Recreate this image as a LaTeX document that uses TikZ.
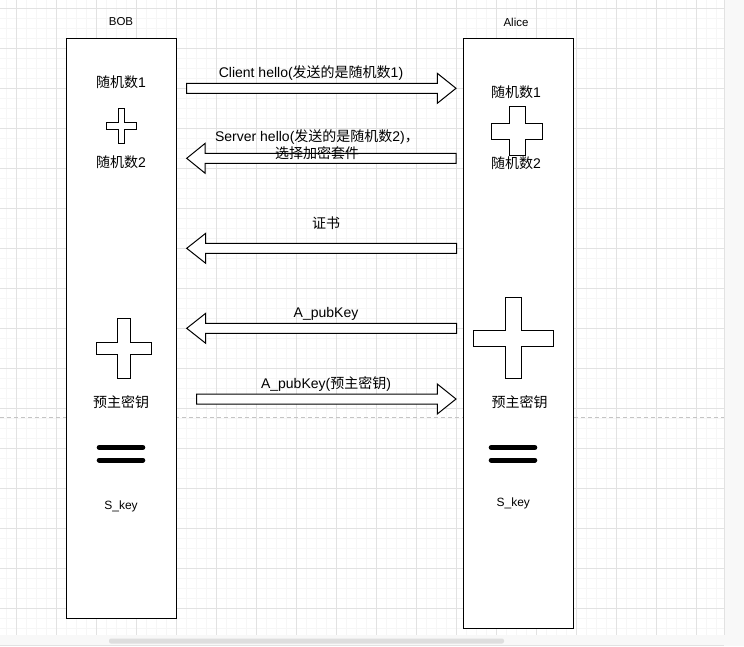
\documentclass[tikz,border=0pt]{standalone}
\usepackage{fontspec}
\setmainfont{Liberation Sans}
\newfontfamily\cjk{Noto Sans CJK SC}
\definecolor{minorgrid}{HTML}{F6F6F6}
\definecolor{majorgrid}{HTML}{E2E2E2}
\definecolor{dashgray}{HTML}{C4C4C4}
\definecolor{panelgray}{HTML}{F8F8F8}
\definecolor{thumbgray}{HTML}{DEDEDE}
\tikzset{
  lanebox/.style={draw=black, fill=white, line width=1.1pt, inner sep=0pt},
  txt/.style={font=\fontsize{14}{17}\selectfont, inner sep=0pt, text=black},
  smalltxt/.style={font=\fontsize{12}{14}\selectfont, inner sep=0pt, text=black},
  headtxt/.style={font=\fontsize{11.5}{13}\selectfont, inner sep=0pt, text=black},
  blockarrow/.style={draw=black, fill=white, line width=1pt, line join=miter},
  crossst/.style={draw=black, fill=white, line width=1pt},
  eqbar/.style={line width=5pt, line cap=round, black},
}
\newcommand\rarr[4]{% tail x, tip x, y, head length
  \draw[blockarrow] (#1,{#3-5}) -- ({#2-#4},{#3-5}) -- ({#2-#4},{#3-15}) -- (#2,#3) -- ({#2-#4},{#3+15}) -- ({#2-#4},{#3+5}) -- (#1,{#3+5}) -- cycle;}
\newcommand\larr[4]{% tail x, tip x, y, head length
  \draw[blockarrow] (#1,{#3-5}) -- ({#2+#4},{#3-5}) -- ({#2+#4},{#3-15}) -- (#2,#3) -- ({#2+#4},{#3+15}) -- ({#2+#4},{#3+5}) -- (#1,{#3+5}) -- cycle;}
\newcommand\crossshape[5]{% cx cy w h t
  \draw[crossst] ({#1-#5/2},{#2-#4/2}) -- ({#1+#5/2},{#2-#4/2}) -- ({#1+#5/2},{#2-#5/2}) -- ({#1+#3/2},{#2-#5/2}) -- ({#1+#3/2},{#2+#5/2}) -- ({#1+#5/2},{#2+#5/2}) -- ({#1+#5/2},{#2+#4/2}) -- ({#1-#5/2},{#2+#4/2}) -- ({#1-#5/2},{#2+#5/2}) -- ({#1-#3/2},{#2+#5/2}) -- ({#1-#3/2},{#2-#5/2}) -- ({#1-#5/2},{#2-#5/2}) -- cycle;}
\begin{document}
\begin{tikzpicture}[x=1pt,y=-1pt]
\useasboundingbox (0,0) rectangle (744,646);
\fill[white] (0,0) rectangle (744,646);
% grid
\begin{scope}
\clip (0,0) rectangle (724,635);
\foreach \k in {0,...,72} {\draw[minorgrid, line width=0.7pt] ({6.7+10*\k},0) -- ({6.7+10*\k},635);}
\foreach \k in {0,...,63} {\draw[minorgrid, line width=0.7pt] (0,{8.3+10*\k}) -- (724,{8.3+10*\k});}
\foreach \k in {0,...,18} {\draw[majorgrid, line width=0.9pt] ({16.7+40*\k},0) -- ({16.7+40*\k},635);}
\foreach \k in {0,...,15} {\draw[majorgrid, line width=0.9pt] (0,{8.3+40*\k}) -- (724,{8.3+40*\k});}
\end{scope}
% right panel and scrollbar
\fill[panelgray] (724,0) rectangle (744,646);
\draw[majorgrid, line width=1pt] (724.5,0) -- (724.5,635);
\fill[panelgray] (0,635) rectangle (724,646);
\draw[majorgrid, line width=0.8pt] (0,645) -- (724,645);
\fill[thumbgray, rounded corners=2pt] (109,638.5) rectangle (504,643.5);
% dashed page break
\draw[dashgray, dashed, dash pattern=on 4pt off 3pt, line width=0.8pt] (0,417) -- (724,417);
% lanes
\node[lanebox, minimum width=110pt, minimum height=580pt] (bobbox) at (121.2,328.2) {};
\node[lanebox, minimum width=110.4pt, minimum height=589.7pt] (alicebox) at (518.5,333.2) {};
\node[headtxt] (bobtitle) at (121,22) {BOB};
\node[headtxt] (alicetitle) at (516,22) {Alice};
% BOB contents
\node[txt] (brand1) at (121,82) {{\cjk 随机数}1};
\crossshape{121.3}{125.8}{30.5}{35}{6.5}
\node[txt] (brand2) at (121,162) {{\cjk 随机数}2};
\crossshape{124}{348.5}{55.7}{60.4}{12.4}
\node[txt] (bpms) at (121,402) {\cjk 预主密钥};
\draw[eqbar] (99.2,447.5) -- (142.8,447.5);
\draw[eqbar] (99.2,460) -- (142.8,460);
\node[smalltxt] (bskey) at (121,506) {S\_key};
% Alice contents
\node[txt] (arand1) at (516,92) {{\cjk 随机数}1};
\crossshape{517}{131}{50.3}{49.7}{16}
\node[txt] (arand2) at (516,163) {{\cjk 随机数}2};
\crossshape{513.3}{338}{80}{80.3}{16}
\node[txt] (apms) at (519.5,402) {\cjk 预主密钥};
\draw[eqbar] (491.2,447.5) -- (534.8,447.5);
\draw[eqbar] (491.2,460) -- (534.8,460);
\node[smalltxt] (askey) at (513.3,503) {S\_key};
% arrows
\rarr{186.7}{456}{88.3}{18.7}
\node[txt] (m1) at (311,73.5) {Client hello({\cjk 发送的是随机数}1)};
\larr{456}{186.7}{158.3}{18.5}
\node[txt, align=center] (m2) at (317,145) {Server hello({\cjk 发送的是随机数}2){\cjk ，}\\{\cjk 选择加密套件}};
\larr{456.7}{186.7}{248.3}{19}
\node[txt] (m3) at (326,223.5) {\cjk 证书};
\larr{456.7}{186.7}{328.3}{19}
\node[txt] (m4) at (326,313.5) {A\_pubKey};
\rarr{196.7}{456}{399}{18.7}
\node[txt] (m5) at (326,383.5) {A\_pubKey({\cjk 预主密钥})};
\end{tikzpicture}
\end{document}
